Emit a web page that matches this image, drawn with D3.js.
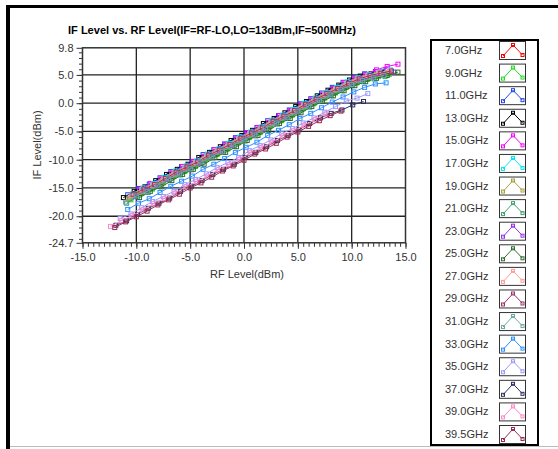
<!DOCTYPE html>
<html><head><meta charset="utf-8">
<script src="https://cdn.jsdelivr.net/npm/d3@7"></script>
<style>html,body{margin:0;padding:0;background:#fff;}svg{display:block;font-family:"Liberation Sans",Arial,sans-serif;}</style>
</head><body>
<svg id="c" width="558" height="449"></svg>
<script>
// ---------------- data ----------------
const freqLabels = ["7.0GHz","9.0GHz","11.0GHz","13.0GHz","15.0GHz","17.0GHz","19.0GHz","21.0GHz","23.0GHz",
  "25.0GHz","27.0GHz","29.0GHz","31.0GHz","33.0GHz","35.0GHz","37.0GHz","39.0GHz","39.5GHz"];
const seriesColors = ["#ff0000","#22dd22","#2244ee","#000000","#ff00ff","#00e8f0","#a8a040","#40a070","#9a30f0",
  "#2e6b2e","#ff9a9a","#a0336a","#6fa8a0","#2a90ff","#9a9aff","#303060","#ff88c8","#9a2a55"];
// source set level (dBm) and per-frequency path loss giving measured RF level
const rfSet = [-10,-9,-8,-7,-6,-5,-4,-3,-2,-1,0,1,2,3,4,5,6,7,8,9,10,11,12,13,14];
const rfOffset = [0.6,0.5,0.8,1.2,-0.3,0.4,0.7,0.9,0.1,-0.3,0.5,0.3,1.0,0.8,2.5,2.9,2.4,2.0];
// measured IF level (dBm)
const if7_0  = [-16.9,-15.8,-14.9,-13.9,-12.8,-11.9,-10.9,-9.8,-8.9,-7.9,-6.9,-5.8,-4.9,-3.9,-2.8,-1.9,-0.9,0.1,1.1,2.0,3.0,3.8,4.5,5.0,5.4];
const if9_0  = [-17.1,-16.0,-15.2,-14.1,-13.0,-12.1,-11.2,-10.0,-9.1,-8.1,-7.0,-6.1,-5.2,-4.0,-3.1,-2.1,-1.0,-0.1,0.9,1.8,2.8,3.6,4.2,4.7,5.1];
const if11_0 = [-16.2,-15.1,-14.3,-13.2,-12.1,-11.2,-10.3,-9.1,-8.2,-7.2,-6.1,-5.2,-4.3,-3.1,-2.2,-1.2,-0.1,0.8,1.8,2.8,3.7,4.5,5.2,5.6,5.9];
const if13_0 = [-16.7,-15.6,-14.8,-13.7,-12.6,-11.7,-10.8,-9.6,-8.7,-7.7,-6.6,-5.7,-4.8,-3.6,-2.7,-1.7,-0.6,0.3,1.3,2.3,3.2,4.1,4.8,5.2,5.5];
const if15_0 = [-15.3,-14.2,-13.4,-12.3,-11.2,-10.3,-9.4,-8.2,-7.3,-6.3,-5.2,-4.3,-3.4,-2.2,-1.3,-0.3,0.6,1.6,2.6,3.6,4.4,5.1,5.9,6.5,6.9];
const if17_0 = [-16.1,-15.0,-14.2,-13.1,-12.0,-11.1,-10.2,-9.0,-8.1,-7.1,-6.0,-5.1,-4.2,-3.0,-2.1,-1.1,0.0,0.9,1.9,2.8,3.8,4.5,5.1,5.5,5.9];
const if19_0 = [-16.9,-15.8,-15.0,-13.9,-12.8,-11.9,-11.0,-9.8,-8.9,-7.9,-6.8,-5.9,-5.0,-3.8,-2.9,-1.9,-0.8,0.1,1.1,2.1,3.0,3.8,4.5,5.0,5.4];
const if21_0 = [-17.7,-16.6,-15.8,-14.7,-13.6,-12.7,-11.8,-10.6,-9.7,-8.7,-7.6,-6.7,-5.8,-4.6,-3.7,-2.7,-1.6,-0.7,0.3,1.3,2.2,3.1,3.8,4.3,4.7];
const if23_0 = [-16.5,-15.4,-14.6,-13.5,-12.4,-11.5,-10.6,-9.4,-8.5,-7.5,-6.4,-5.5,-4.6,-3.4,-2.5,-1.5,-0.4,0.5,1.5,2.5,3.3,4.1,4.7,5.1,5.5];
const if25_0 = [-16.7,-15.6,-14.8,-13.7,-12.6,-11.7,-10.8,-9.6,-8.7,-7.7,-6.6,-5.7,-4.8,-3.6,-2.7,-1.7,-0.6,0.3,1.3,2.2,3.1,3.8,4.4,4.9,5.5];
const if27_0 = [-16.4,-15.3,-14.5,-13.4,-12.3,-11.4,-10.5,-9.3,-8.4,-7.4,-6.3,-5.4,-4.5,-3.3,-2.4,-1.4,-0.3,0.6,1.6,2.5,3.5,4.3,4.9,5.4,5.8];
const if29_0 = [-16.1,-15.2,-14.4,-13.3,-12.2,-11.3,-10.4,-9.2,-8.3,-7.3,-6.2,-5.3,-4.4,-3.2,-2.3,-1.3,-0.2,0.7,1.7,2.6,3.5,4.3,4.9,5.3,5.7];
const if31_0 = [-17.5,-16.4,-15.6,-14.5,-13.4,-12.5,-11.6,-10.4,-9.5,-8.5,-7.4,-6.5,-5.6,-4.4,-3.5,-2.5,-1.4,-0.5,0.5,1.5,2.4,3.3,4.0,4.5,4.9];
const if33_0 = [-18.8,-17.7,-16.9,-15.8,-14.7,-13.8,-12.9,-11.7,-10.8,-9.8,-8.7,-7.8,-6.9,-5.7,-4.8,-3.8,-2.7,-1.8,-0.8,0.2,1.1,2.0,2.8,3.4,3.6];
const if35_0 = [null,-20.4,-19.6,-18.5,-17.4,-16.5,-15.6,-14.4,-13.5,-12.5,-11.4,-10.5,-9.6,-8.4,-7.5,-6.5,-5.4,-4.5,-3.5,-2.6,-1.6,-0.6,0.4,0.9,1.7];
const if37_0 = [null,-21.6,-20.8,-19.7,-18.6,-17.7,-16.8,-15.6,-14.7,-13.7,-12.6,-11.7,-10.8,-9.6,-8.7,-7.7,-6.6,-5.7,-4.7,-3.6,-2.6,-1.8,-1.2,-0.3,0.3];
const if39_0 = [-21.8,-20.8,-19.9,-18.9,-17.8,-16.9,-15.9,-14.8,-13.9,-12.9,-11.8,-10.9,-9.9,-8.8,-7.9,-6.9,-5.8,-4.9,-3.9,-2.9,-1.9,null,null,null,null];
const if39_5 = [-22.0,-21.0,-20.1,-19.1,-18.0,-17.1,-16.1,-15.0,-14.1,-13.1,-12.0,-11.1,-10.1,-9.0,-8.1,-7.1,-6.0,-5.1,-4.1,-3.1,-2.2,-1.4,null,null,null];
const ifSeries = [if7_0,if9_0,if11_0,if13_0,if15_0,if17_0,if19_0,if21_0,if23_0,if25_0,if27_0,if29_0,if31_0,if33_0,if35_0,if37_0,if39_0,if39_5];

const xTickValues = [-15,-10,-5,0,5,10,15];
const yTickValues = [9.8,5,0,-5,-10,-15,-20,-24.7];
const titleText = "IF Level vs. RF Level(IF=RF-LO,LO=13dBm,IF=500MHz)";
const xLabel = "RF Level(dBm)";
const yLabel = "IF Level(dBm)";

// ---------------- drawing ----------------
const svg = d3.select("#c");
const W = 558, H = 449;
svg.append("rect").attr("width",W).attr("height",H).attr("fill","#fff");
// panel frame
svg.append("rect").attr("x",6).attr("y",5).attr("width",W-6).attr("height",3).attr("fill","#000");
svg.append("rect").attr("x",6).attr("y",5).attr("width",4).attr("height",H-5).attr("fill","#000");
svg.append("line").attr("x1",10).attr("x2",W).attr("y1",446.5).attr("y2",446.5).attr("stroke","#bbb").attr("stroke-width",1);

const x = d3.scaleLinear().domain([-15,15]).range([82.5,405.5]);
const y = d3.scaleLinear().domain([-24.7,9.8]).range([242.8,47.8]);
const fmt = d => d.toFixed(1);

// title
svg.append("text").attr("x",68).attr("y",33.5).attr("font-size",11.5).attr("font-weight","bold")
  .attr("fill","#000").attr("textLength",288).attr("lengthAdjust","spacingAndGlyphs").text(titleText);

// grid
const grid = svg.append("g");
grid.selectAll("line.v").data(xTickValues.slice(1,-1)).join("line")
  .attr("x1",d=>x(d)).attr("x2",d=>x(d)).attr("y1",y(9.8)).attr("y2",y(-24.7))
  .attr("stroke","#222").attr("stroke-width",1.3);
grid.selectAll("line.h").data(yTickValues.slice(1,-1)).join("line")
  .attr("x1",x(-15)).attr("x2",x(15)).attr("y1",d=>y(d)).attr("y2",d=>y(d))
  .attr("stroke","#222").attr("stroke-width",1.3);

// axes
function styleAxis(g){
  g.select(".domain").remove();
  g.selectAll(".tick line").attr("stroke","#333");
  g.selectAll(".tick text").attr("fill","#333").attr("font-size",11).attr("font-family",'"Liberation Sans",Arial,sans-serif');
}
const xMinor = d3.range(-15,15.001,0.5);
svg.append("g").attr("transform",`translate(0,${y(-24.7)})`)
  .call(d3.axisBottom(x).tickValues(xMinor).tickSize(4).tickFormat(""))
  .call(styleAxis);
svg.append("g").attr("transform",`translate(0,${y(-24.7)})`)
  .call(d3.axisBottom(x).tickValues(xTickValues).tickSize(6).tickPadding(4).tickFormat(fmt))
  .call(styleAxis);
const yMinor = d3.range(-24,9.5,1);
svg.append("g").attr("transform",`translate(${x(-15)},0)`)
  .call(d3.axisLeft(y).tickValues(yMinor).tickSize(3.5).tickFormat(""))
  .call(styleAxis);
svg.append("g").attr("transform",`translate(${x(-15)},0)`)
  .call(d3.axisLeft(y).tickValues(yTickValues).tickSize(6).tickPadding(3).tickFormat(fmt))
  .call(styleAxis);

// frame
svg.append("rect").attr("x",x(-15)).attr("y",y(9.8)).attr("width",x(15)-x(-15)).attr("height",y(-24.7)-y(9.8))
  .attr("fill","none").attr("stroke","#333").attr("stroke-width",1.5);

// axis labels
svg.append("text").attr("x",247).attr("y",278).attr("text-anchor","middle").attr("font-size",11)
  .attr("fill","#333").text(xLabel);
svg.append("text").attr("transform","translate(41,145) rotate(-90)").attr("text-anchor","middle")
  .attr("font-size",11).attr("fill","#333").text(yLabel);

// series
const plot = svg.append("g");
const line = d3.line().x(d=>x(d.rf)).y(d=>y(d.v));
ifSeries.forEach((vals,k)=>{
  const pts = rfSet.map((s,i)=>({rf:s-rfOffset[k], v:vals[i]})).filter(d=>d.v!=null);
  const g = plot.append("g");
  g.append("path").datum(pts).attr("d",line).attr("fill","none").attr("stroke",seriesColors[k]).attr("stroke-width",1);
  g.selectAll("rect").data(pts).join("rect")
    .attr("x",d=>x(d.rf)-2).attr("y",d=>y(d.v)-2).attr("width",4).attr("height",4)
    .attr("fill","none").attr("stroke",seriesColors[k]).attr("stroke-width",1);
});

// legend
const lg = svg.append("g");
lg.append("rect").attr("x",431).attr("y",40).attr("width",107).attr("height",405)
  .attr("fill","#fff").attr("stroke","#000").attr("stroke-width",2);
const rowY = d3.scaleLinear().domain([0,17]).range([50,434]);
freqLabels.forEach((lab,k)=>{
  const cy = rowY(k);
  lg.append("text").attr("x",445).attr("y",cy+4).attr("font-size",11).attr("fill","#333").text(lab);
  const bx = 499.5, by = cy-8.5;
  lg.append("rect").attr("x",bx).attr("y",by).attr("width",26).attr("height",18)
    .attr("fill","#fff").attr("stroke","#333").attr("stroke-width",1);
  const gp = [[bx+3.5,by+14.5],[bx+13.5,by+3.5],[bx+23,by+13.5]];
  lg.append("path").attr("d",d3.line()(gp)).attr("fill","none").attr("stroke",seriesColors[k]).attr("stroke-width",1);
  gp.forEach(p=>{
    lg.append("rect").attr("x",p[0]-1.5).attr("y",p[1]-1.5).attr("width",3).attr("height",3)
      .attr("fill","none").attr("stroke",seriesColors[k]).attr("stroke-width",1);
  });
});
</script>
</body></html>
